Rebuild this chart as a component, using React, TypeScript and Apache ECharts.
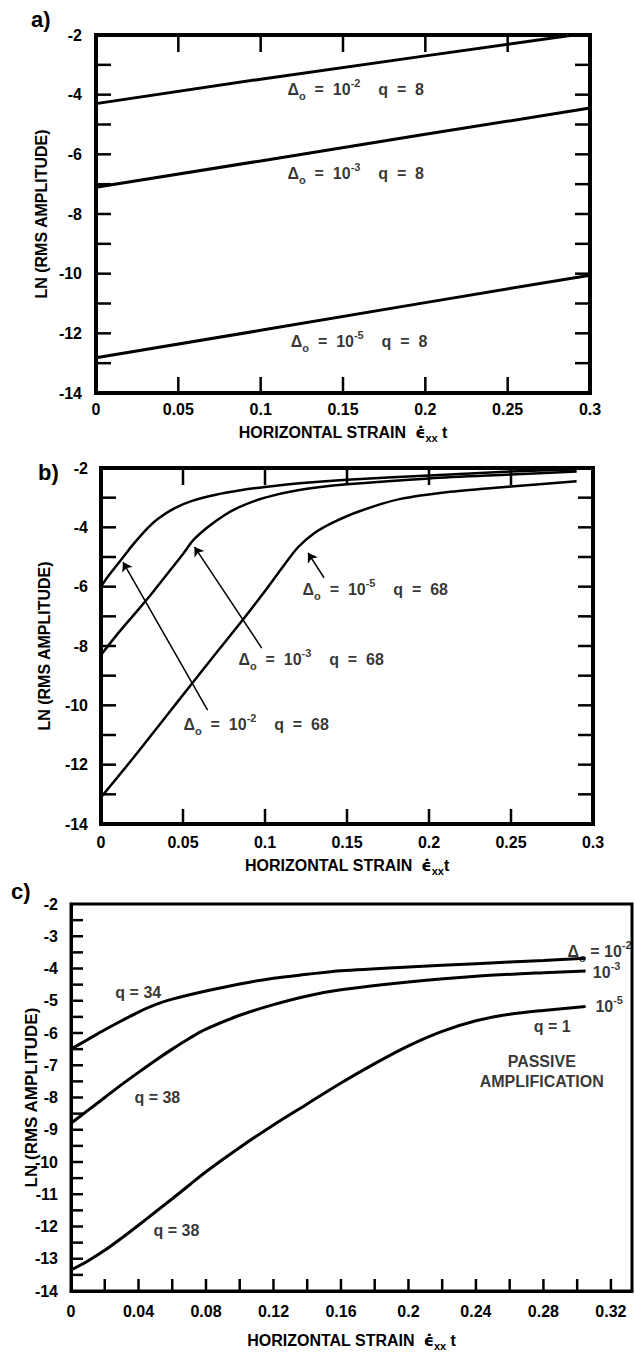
import React, { useEffect, useRef } from "react";
import * as echarts from "echarts";

const FONT = "'Liberation Sans', Arial, sans-serif";

// Tick positions
const abYTicks = [-13, -12, -11, -10, -9, -8, -7, -6, -5, -4, -3];
const abXTicks = [0.05, 0.1, 0.15, 0.2, 0.25];
const cYTicks = [-13.5, -13, -12.5, -12, -11.5, -11, -10.5, -10, -9.5, -9, -8.5, -8, -7.5, -7, -6.5, -6, -5.5, -5, -4.5, -4, -3.5, -3, -2.5];
const cXTicks = [0.02, 0.04, 0.06, 0.08, 0.1, 0.12, 0.14, 0.16, 0.18, 0.2, 0.22, 0.24, 0.26, 0.28, 0.3, 0.32];

// Panel a: q = 8
const aLine1: [number, number][] = [[0, -4.3], [0.1, -3.48], [0.2, -2.7], [0.29, -2.0]];
const aLine2: [number, number][] = [[0, -7.1], [0.1, -6.22], [0.2, -5.33], [0.3, -4.45]];
const aLine3: [number, number][] = [[0, -12.82], [0.1, -11.9], [0.2, -10.97], [0.3, -10.05]];

// Panel b: q = 68
const bCurve1: [number, number][] = [
  [0, -6.0], [0.005, -5.6], [0.01, -5.25], [0.015, -4.9], [0.02, -4.55], [0.028, -4.05],
  [0.035, -3.7], [0.045, -3.35], [0.056, -3.1], [0.07, -2.9], [0.085, -2.75], [0.1, -2.64],
  [0.125, -2.5], [0.15, -2.4], [0.2, -2.25], [0.25, -2.12], [0.29, -2.05],
];
const bCurve2: [number, number][] = [
  [0, -8.3], [0.01, -7.6], [0.02, -6.95], [0.03, -6.3], [0.04, -5.6], [0.05, -4.9],
  [0.056, -4.45], [0.065, -4.0], [0.075, -3.6], [0.085, -3.3], [0.1, -3.0], [0.12, -2.75],
  [0.15, -2.55], [0.2, -2.35], [0.25, -2.22], [0.29, -2.12],
];
const bCurve3: [number, number][] = [
  [0, -13.1], [0.02, -11.75], [0.04, -10.35], [0.055, -9.3], [0.07, -8.25], [0.086, -7.15],
  [0.1, -6.15], [0.11, -5.4], [0.12, -4.68], [0.13, -4.2], [0.141, -3.85], [0.158, -3.45],
  [0.182, -3.05], [0.213, -2.8], [0.25, -2.62], [0.29, -2.45],
];
const bArrows: [number, number][][] = [
  [[0.065, -10.16], [0.0134, -5.17]],
  [[0.098, -8.07], [0.057, -4.66]],
  [[0.136, -5.7], [0.1262, -4.86]],
];

// Panel c: passive amplification
const cCurve1: [number, number][] = [
  [0, -6.5], [0.01, -6.2], [0.02, -5.9], [0.03, -5.62], [0.04, -5.35], [0.05, -5.12],
  [0.06, -4.95], [0.08, -4.7], [0.1, -4.48], [0.12, -4.3], [0.14, -4.18], [0.16, -4.07],
  [0.2, -3.95], [0.24, -3.85], [0.28, -3.75], [0.305, -3.68],
];
const cCurve2: [number, number][] = [
  [0, -8.8], [0.01, -8.4], [0.02, -8.0], [0.03, -7.6], [0.04, -7.22], [0.05, -6.85],
  [0.06, -6.5], [0.07, -6.17], [0.08, -5.88], [0.1, -5.45], [0.12, -5.12], [0.14, -4.85],
  [0.16, -4.66], [0.2, -4.42], [0.24, -4.24], [0.28, -4.13], [0.305, -4.08],
];
const cCurve3: [number, number][] = [
  [0, -13.35], [0.01, -13.07], [0.02, -12.74], [0.03, -12.36], [0.04, -11.96], [0.05, -11.55],
  [0.06, -11.14], [0.07, -10.72], [0.08, -10.3], [0.1, -9.55], [0.12, -8.85], [0.14, -8.2],
  [0.16, -7.55], [0.18, -6.95], [0.2, -6.4], [0.22, -5.95], [0.24, -5.62], [0.26, -5.42],
  [0.28, -5.3], [0.305, -5.18],
];

// Annotations (data coordinates + text)
const aLabels = [
  { pos: [0.116, -3.84], exp: "-2", q: "8" },
  { pos: [0.116, -6.63], exp: "-3", q: "8" },
  { pos: [0.118, -12.29], exp: "-5", q: "8" },
];
const bLabels = [
  { pos: [0.05, -10.66], exp: "-2", q: "68" },
  { pos: [0.0835, -8.47], exp: "-3", q: "68" },
  { pos: [0.1226, -6.11], exp: "-5", q: "68" },
];
const cQLabels = [
  { pos: [0.026, -4.75], text: "q = 34" },
  { pos: [0.0373, -7.99], text: "q = 38" },
  { pos: [0.0486, -12.12], text: "q = 38" },
  { pos: [0.274, -5.8], text: "q = 1" },
];
const cDeltaLabels = [
  { pos: [0.294, -3.48], delta: true, exp: "-2" },
  { pos: [0.309, -4.13], delta: false, exp: "-3" },
  { pos: [0.3105, -5.18], delta: false, exp: "-5" },
];
const cPassive = { pos: [0.279, -7.18], text: "PASSIVE\nAMPLIFICATION" };

const rich = {
  t: { fontSize: 16, fontWeight: "bold", fontFamily: FONT, color: "#000", lineHeight: 24, verticalAlign: "middle" },
  s: { fontSize: 11, fontWeight: "bold", fontFamily: FONT, color: "#000", lineHeight: 10, verticalAlign: "bottom" },
  p: { fontSize: 11, fontWeight: "bold", fontFamily: FONT, color: "#000", lineHeight: 10, verticalAlign: "top" },
};

const titleRich = {
  t: { fontSize: 16, fontWeight: "bold", fontFamily: FONT, color: "#000", lineHeight: 22, verticalAlign: "middle" },
  e: { fontSize: 16, fontWeight: "bold", fontFamily: "'DejaVu Sans', sans-serif", color: "#000", lineHeight: 22, verticalAlign: "middle" },
  s: { fontSize: 11, fontWeight: "bold", fontFamily: FONT, color: "#000", lineHeight: 10, verticalAlign: "bottom" },
};

const tickLabel = (size: number) => ({ fontSize: size, fontWeight: "bold", fontFamily: FONT, color: "#000" });

const evenOnly = (v: number) => (Math.round(v) % 2 === 0 ? String(v) : "");
const intOnly = (v: number) => (Math.abs(v - Math.round(v)) < 1e-9 ? String(Math.round(v)) : "");
const every004 = (v: number) => {
  const k = v / 0.04;
  return Math.abs(k - Math.round(k)) < 1e-6 ? String(+v.toFixed(2)) : "";
};

function lineSeries(data: [number, number][], axis: number, width: number, smooth: number | boolean) {
  return {
    type: "line",
    xAxisIndex: axis,
    yAxisIndex: axis,
    data,
    showSymbol: false,
    symbol: "none",
    smooth,
    lineStyle: { color: "#000", width },
    silent: true,
    z: 3,
  };
}

// Inward tick marks drawn through the axis scales
function tickSeries(axis: number, pts: number[][], dx: number, dy: number, width: number) {
  return {
    type: "custom",
    xAxisIndex: axis,
    yAxisIndex: axis,
    silent: true,
    clip: false,
    z: 4,
    data: pts,
    renderItem: (_params: any, api: any) => {
      const p = api.coord([api.value(0), api.value(1)]);
      return {
        type: "line",
        shape: { x1: p[0], y1: p[1], x2: p[0] + dx, y2: p[1] + dy },
        style: { stroke: "#000", lineWidth: width },
      };
    },
  };
}

function labelSeries(axis: number, items: { pos: number[]; fmt: string }[]) {
  return {
    type: "scatter",
    xAxisIndex: axis,
    yAxisIndex: axis,
    symbolSize: 1,
    itemStyle: { color: "rgba(0,0,0,0)" },
    silent: true,
    z: 5,
    data: items.map((it) => ({
      value: it.pos,
      label: { show: true, formatter: it.fmt, position: "right", distance: 0, rich, color: "#000" },
    })),
  };
}

const deltaFmt = (exp: string, q: string) =>
  `{t|\u0394}{s|o}{t|  =  10}{p|${exp}}{t|    q  =  ${q}}`;

export default function App() {
  const ref = useRef<HTMLDivElement>(null);
  useEffect(() => {
    if (!ref.current) return;
    const chart = echarts.init(ref.current, undefined, { renderer: "svg" });

    const xTitle = (space: string) => `{t|HORIZONTAL STRAIN  }{e|\u03F5\u0307}{s|xx}{t|${space}t}`;
    const noTick = { show: false };
    const yName = (gap: number, size: number) => ({
      name: "LN (RMS AMPLITUDE)", nameLocation: "middle", nameGap: gap, nameRotate: 90, nameMoveOverlap: false,
      nameTextStyle: { fontSize: size, fontWeight: "bold", fontFamily: FONT, color: "#000" },
    });

    const option: any = {
      animation: false,
      backgroundColor: "#fff",
      grid: [
        { left: 96, top: 35, width: 494, height: 358, show: true, borderColor: "#000", borderWidth: 4, backgroundColor: "transparent" },
        { left: 101, top: 468, width: 492, height: 356, show: true, borderColor: "#000", borderWidth: 4, backgroundColor: "transparent" },
        { left: 71, top: 904, width: 561, height: 389, show: true, borderColor: "#000", borderWidth: 3, backgroundColor: "transparent" },
      ],
      xAxis: [
        {
          gridIndex: 0, type: "value", min: 0, max: 0.3, interval: 0.05, position: "bottom",
          axisLine: { show: true, lineStyle: { color: "#000", width: 4 } },
          axisTick: noTick,
          axisLabel: { ...tickLabel(16), margin: 8 },
          splitLine: { show: false },
          name: xTitle(" "), nameLocation: "middle", nameGap: 28, nameTextStyle: { rich: titleRich },
        },
        {
          gridIndex: 1, type: "value", min: 0, max: 0.3, interval: 0.05, position: "bottom",
          axisLine: { show: true, lineStyle: { color: "#000", width: 4 } },
          axisTick: noTick,
          axisLabel: { ...tickLabel(16), margin: 10 },
          splitLine: { show: false },
          name: xTitle(""), nameLocation: "middle", nameGap: 30, nameTextStyle: { rich: titleRich },
        },
        {
          gridIndex: 2, type: "value", min: 0, max: 0.3325, interval: 0.02, position: "bottom",
          axisLine: { show: true, lineStyle: { color: "#000", width: 3 } },
          axisTick: noTick,
          axisLabel: { ...tickLabel(16), margin: 12, formatter: every004, showMaxLabel: false },
          splitLine: { show: false },
          name: xTitle(" "), nameLocation: "middle", nameGap: 38, nameTextStyle: { rich: titleRich },
        },
      ],
      yAxis: [
        {
          gridIndex: 0, type: "value", min: -14, max: -2, interval: 1, position: "left",
          axisLine: { show: true, lineStyle: { color: "#000", width: 4 } },
          axisTick: noTick,
          axisLabel: { ...tickLabel(16), margin: 14, formatter: evenOnly },
          splitLine: { show: false },
          ...yName(47, 16),
        },
        {
          gridIndex: 1, type: "value", min: -14, max: -2, interval: 1, position: "left",
          axisLine: { show: true, lineStyle: { color: "#000", width: 4 } },
          axisTick: noTick,
          axisLabel: { ...tickLabel(16), margin: 13, formatter: evenOnly },
          splitLine: { show: false },
          ...yName(49, 16),
        },
        {
          gridIndex: 2, type: "value", min: -14, max: -2, interval: 0.5, position: "left",
          axisLine: { show: true, lineStyle: { color: "#000", width: 3 } },
          axisTick: noTick,
          axisLabel: { ...tickLabel(16), margin: 13, formatter: intOnly },
          splitLine: { show: false },
          ...yName(31, 17),
        },
      ],
      graphic: [
        { type: "text", left: 31, top: 8, style: { text: "a)", font: `bold 22px ${FONT}`, fill: "#000" } },
        { type: "text", left: 38, top: 461, style: { text: "b)", font: `bold 22px ${FONT}`, fill: "#000" } },
        { type: "text", left: 11, top: 880, style: { text: "c)", font: `bold 22px ${FONT}`, fill: "#000" } },
      ],
      series: [
        // panel a ticks
        tickSeries(0, abYTicks.map((v) => [0, v]), 15, 0, 2.5),
        tickSeries(0, abYTicks.map((v) => [0.3, v]), -15, 0, 2.5),
        tickSeries(0, abXTicks.map((v) => [v, -14]), 0, -16, 2.5),
        tickSeries(0, abXTicks.map((v) => [v, -2]), 0, 17, 2.5),
        lineSeries(aLine1, 0, 3, false),
        lineSeries(aLine2, 0, 3, false),
        lineSeries(aLine3, 0, 3, false),
        labelSeries(0, aLabels.map((l) => ({ pos: l.pos, fmt: deltaFmt(l.exp, l.q) }))),

        // panel b
        tickSeries(1, abYTicks.map((v) => [0, v]), 15, 0, 2.5),
        tickSeries(1, abYTicks.map((v) => [0.3, v]), -15, 0, 2.5),
        tickSeries(1, abXTicks.map((v) => [v, -14]), 0, -15, 2.5),
        tickSeries(1, abXTicks.map((v) => [v, -2]), 0, 17, 2.5),
        lineSeries(bCurve1, 1, 2.5, 0.3),
        lineSeries(bCurve2, 1, 2.5, 0.3),
        lineSeries(bCurve3, 1, 2.5, 0.3),
        {
          type: "lines",
          coordinateSystem: "cartesian2d",
          xAxisIndex: 1,
          yAxisIndex: 1,
          silent: true,
          symbol: ["none", "arrow"],
          symbolSize: 9,
          lineStyle: { color: "#000", width: 1.5, opacity: 1 },
          data: bArrows.map((c) => ({ coords: c })),
        },
        labelSeries(1, bLabels.map((l) => ({ pos: l.pos, fmt: deltaFmt(l.exp, l.q) }))),

        // panel c
        tickSeries(2, cYTicks.map((v) => [0, v]), 12, 0, 2.5),
        tickSeries(2, cXTicks.map((v) => [v, -14]), 0, -12, 2.5),
        lineSeries(cCurve1, 2, 3, 0.3),
        lineSeries(cCurve2, 2, 3, 0.3),
        lineSeries(cCurve3, 2, 3, 0.3),
        labelSeries(2, cQLabels.map((l) => ({ pos: l.pos, fmt: `{t|${l.text}}` }))),
        labelSeries(2, cDeltaLabels.map((l) => ({ pos: l.pos, fmt: l.delta ? `{t|\u0394}{s|o}{t| = 10}{p|${l.exp}}` : `{t|10}{p|${l.exp}}` }))),
        {
          type: "scatter",
          xAxisIndex: 2,
          yAxisIndex: 2,
          symbolSize: 1,
          itemStyle: { color: "rgba(0,0,0,0)" },
          silent: true,
          data: [{
            value: cPassive.pos,
            label: {
              show: true, position: "inside", formatter: cPassive.text, align: "center",
              fontSize: 16, fontWeight: "bold", fontFamily: FONT, color: "#000", lineHeight: 20,
            },
          }],
        },
      ],
    };
    chart.setOption(option);
    return () => chart.dispose();
  }, []);
  return <div ref={ref} style={{ position: "absolute", left: 0, top: 0, width: 635, height: 1352, background: "#fff" }} />;
}
